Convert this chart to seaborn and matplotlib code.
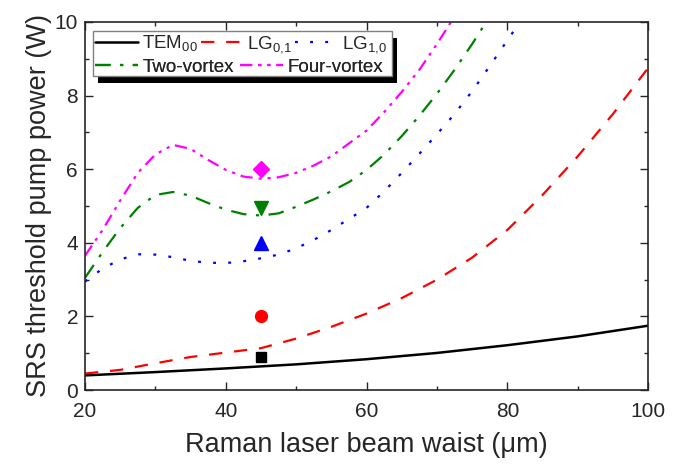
import numpy as np
import pandas as pd
import seaborn as sns
import matplotlib.pyplot as plt
from matplotlib.ticker import MultipleLocator
from matplotlib.patches import Rectangle

# values
x_tem = [20, 30, 40, 50, 60, 70, 80, 90, 100]
y_tem = [0.40, 0.49, 0.59, 0.70, 0.84, 1.01, 1.22, 1.46, 1.75]

x_lg01 = [20, 25, 30, 35, 40, 45, 50, 55, 60, 65, 70, 75, 80, 85, 90, 95, 100]
y_lg01 = [0.45, 0.55, 0.73, 0.9, 1.02, 1.14, 1.4, 1.72, 2.08, 2.5, 3.0, 3.6,
          4.35, 5.3, 6.35, 7.5, 8.75]

x_lg10 = [20, 22.5, 25, 27.5, 30, 32.5, 35, 37.5, 40, 42.5, 45, 47.5, 50, 52.5,
          55, 57.5, 60, 62.5, 65, 67.5, 70, 72.5, 75, 77.5, 80, 82.5]
y_lg10 = [2.95, 3.3, 3.55, 3.69, 3.68, 3.61, 3.51, 3.46, 3.45, 3.5, 3.58, 3.68,
          3.85, 4.08, 4.35, 4.65, 4.95, 5.4, 5.9, 6.42, 6.95, 7.5, 8.12, 8.8,
          9.5, 10.2]

x_two = [20, 22.5, 25, 27.5, 30, 32.5, 35, 37.5, 40, 42.5, 45, 47.5, 50, 52.5,
         55, 57.5, 60, 62.5, 65, 67.5, 70, 72.5, 75, 77.5]
y_two = [3.05, 3.75, 4.4, 4.95, 5.3, 5.38, 5.28, 5.08, 4.9, 4.78, 4.74, 4.8,
         4.98, 5.18, 5.4, 5.65, 5.98, 6.4, 6.9, 7.45, 8.05, 8.7, 9.4, 10.15]

x_four = [20, 22.5, 25, 27.5, 30, 32.5, 35, 37.5, 40, 42.5, 45, 47.5, 50, 52.5,
          55, 57.5, 60, 62.5, 65, 67.5, 70, 72.5]
y_four = [3.65, 4.35, 5.15, 5.9, 6.4, 6.66, 6.55, 6.25, 5.98, 5.8, 5.74, 5.78,
          5.9, 6.1, 6.35, 6.7, 7.05, 7.55, 8.1, 8.7, 9.4, 10.15]

# experimental points at 45 um
x_exp = 45
y_exp = [0.9, 2.0, 4.0, 4.95, 6.0]

sns.set_style('ticks')
plt.rcParams['font.family'] = ['Liberation Sans', 'DejaVu Sans']
plt.rcParams['mathtext.fontset'] = 'custom'
plt.rcParams['mathtext.rm'] = 'Liberation Sans'

fig = plt.figure(figsize=(6.94, 4.65), dpi=100)
ax = fig.add_axes([0.1225, 0.161, 0.8115, 0.792])

lw = 1.6
sns.lineplot(x=x_tem, y=y_tem, ax=ax, color='black', lw=1.8,
             label=r'TEM$_{00}$')
sns.lineplot(x=x_lg01, y=y_lg01, ax=ax, color='red', lw=lw,
             linestyle=(0, (6, 5.3)), label=r'LG$_{0{,}1}$')
sns.lineplot(x=x_lg10, y=y_lg10, ax=ax, color='blue', lw=lw,
             linestyle=(0, (1.3, 5.5)), label=r'LG$_{1{,}0}$')
sns.lineplot(x=x_two, y=y_two, ax=ax, color='green', lw=lw,
             linestyle=(0, (7, 4.3, 1.4, 4.3)), label='Two-vortex')
sns.lineplot(x=x_four, y=y_four, ax=ax, color='magenta', lw=lw,
             linestyle=(0, (5.5, 2.7, 1.4, 2.7, 1.4, 2.7)), label='Four-vortex')

marks = ['s', 'o', '^', 'v', 'D']
sizes = [7.5, 8.5, 10, 10, 8.5]
cols = ['black', 'red', 'blue', 'green', 'magenta']
for yv, m, s, c in zip(y_exp, marks, sizes, cols):
    ax.plot([x_exp], [yv], marker=m, color=c, ms=s, ls='none')

ax.set_xlim(20, 100)
ax.set_ylim(0, 10)
ax.xaxis.set_major_locator(MultipleLocator(20))
ax.xaxis.set_minor_locator(MultipleLocator(10))
ax.yaxis.set_major_locator(MultipleLocator(2))
ax.yaxis.set_minor_locator(MultipleLocator(1))
ax.tick_params(which='both', direction='in', top=True, right=True,
               labelsize=15, width=1)
ax.tick_params(which='major', length=6)
ax.tick_params(which='minor', length=3)
ax.tick_params(axis='x', which='major', pad=8.5)
ax.tick_params(axis='y', which='major', pad=5)
for s in ax.spines.values():
    s.set_linewidth(1.2)

ax.set_xlabel('Raman laser beam waist (\u03bcm)', fontsize=19.5, labelpad=8)
ax.set_ylabel('SRS threshold pump power (W)', fontsize=19.5, labelpad=2)

# legend: two rows laid out like the original, inside one shadowed box
handles, labels = ax.get_legend_handles_labels()
ax.get_legend().remove()
opts = dict(frameon=False, fontsize=13.5, handlelength=2.3,
            borderpad=0, borderaxespad=0, loc='center left')
leg1 = ax.legend(handles[:3], labels[:3], ncol=3, columnspacing=0.15,
                 handletextpad=0.2, bbox_to_anchor=(0.0178, 0.9375), **opts)
ax.add_artist(leg1)
leg2 = ax.legend(handles[3:], labels[3:], ncol=2, columnspacing=0.3,
                 handletextpad=0.25, bbox_to_anchor=(0.0178, 0.877), **opts)
ax.add_artist(leg2)
x0, y0, w, h = 0.0142, 0.853, 0.531, 0.1225
ax.add_patch(Rectangle((x0 + 0.008, y0 - 0.018), w, h, transform=ax.transAxes,
                       facecolor='black', edgecolor='none', zorder=4,
                       clip_on=False))
ax.add_patch(Rectangle((x0, y0), w, h, transform=ax.transAxes,
                       facecolor='white', edgecolor='gray', lw=1, zorder=4.5,
                       clip_on=False))
leg1.set_zorder(5)
leg2.set_zorder(5)

fig.savefig('out.png', dpi=100)
